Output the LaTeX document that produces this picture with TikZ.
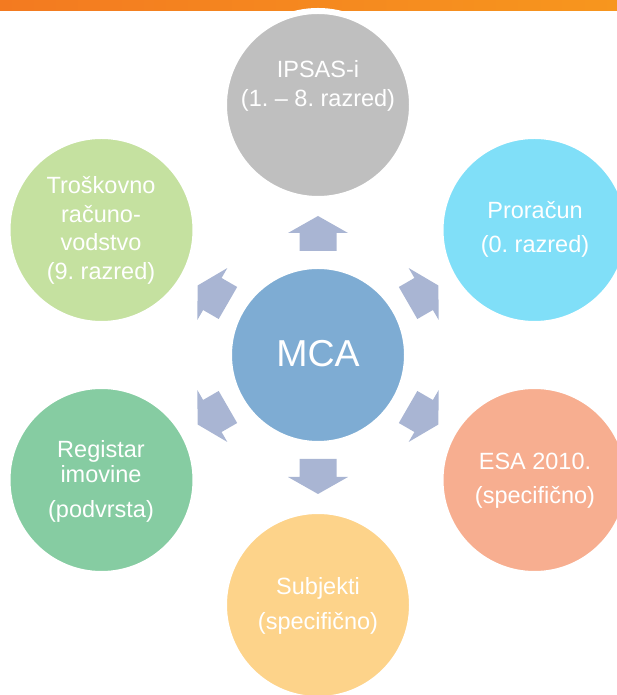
\documentclass[tikz,border=0pt]{standalone}
\usepackage{fontspec}
\setmainfont{Liberation Sans}
\frenchspacing
\definecolor{barL}{RGB}{243,122,32}
\definecolor{barR}{RGB}{247,150,30}
\definecolor{mcac}{RGB}{126,172,211}
\definecolor{grayc}{RGB}{191,191,191}
\definecolor{cyanc}{RGB}{128,223,248}
\definecolor{salmonc}{RGB}{247,174,144}
\definecolor{yellowc}{RGB}{253,211,138}
\definecolor{dgreenc}{RGB}{134,204,162}
\definecolor{lgreenc}{RGB}{197,225,160}
\definecolor{arrowc}{RGB}{169,181,211}
\begin{document}
\begin{tikzpicture}[x=1pt,y=1pt,
  bubble/.style={circle, minimum size=188pt, inner sep=0pt, draw=white, line width=6pt},
  ctext/.style={text=white, align=center, inner sep=0pt, font=\fontsize{23.5}{25}\selectfont\frenchspacing},
  blockarrow/.style={fill=arrowc}]
\useasboundingbox (0,0) rectangle (617,695);
\clip (0,0) rectangle (617,695);
\shade[left color=barL, right color=barR] (0,684) rectangle (617,695);
\node[bubble, fill=mcac, minimum size=178pt] (mca) at (318,340) {};
\node[text=white, inner sep=0pt, font=\fontsize{37.5}{40}\selectfont] (tmca) at (318,341.5) {MCA};
\node[bubble, fill=grayc]   (ipsas) at ([shift={(90:250)}]mca.center) {};
\node[bubble, fill=cyanc]   (pror)  at ([shift={(30:250)}]mca.center) {};
\node[bubble, fill=salmonc] (esa)   at ([shift={(-30:250)}]mca.center) {};
\node[bubble, fill=yellowc] (subj)  at ([shift={(-90:250)}]mca.center) {};
\node[bubble, fill=dgreenc] (reg)   at ([shift={(-150:250)}]mca.center) {};
\node[bubble, fill=lgreenc] (tros)  at ([shift={(150:250)}]mca.center) {};
\node[ctext] (tipsas) at (318,609.5) {IPSAS-i\\[4pt](1. – 8. razred)};
\node[ctext] (tpror) at (535,465.5) {Proračun\\[9pt](0. razred)};
\node[ctext] (tesa) at (535,214) {ESA 2010.\\[9pt](specifično)};
\node[ctext] (tsubj) at (318,89.5) {Subjekti\\[10pt](specifično)};
\node[ctext] (treg) at (101,214) {Registar\\imovine\\[10pt](podvrsta)};
\node[ctext] (ttros) at (101,464.5) {Troškovno\\[3.5pt]računo-\\[3.5pt]vodstvo\\[3.5pt](9. razred)};
\foreach \a in {90,30,-30,-90,-150,150}{
  \begin{scope}[shift={(mca.center)}, rotate=\a]
    \fill[blockarrow] (104,-18.5) -- (122,-18.5) -- (122,-30) -- (139,0) -- (122,30) -- (122,18.5) -- (104,18.5) -- cycle;
  \end{scope}
}
\end{tikzpicture}
\end{document}
